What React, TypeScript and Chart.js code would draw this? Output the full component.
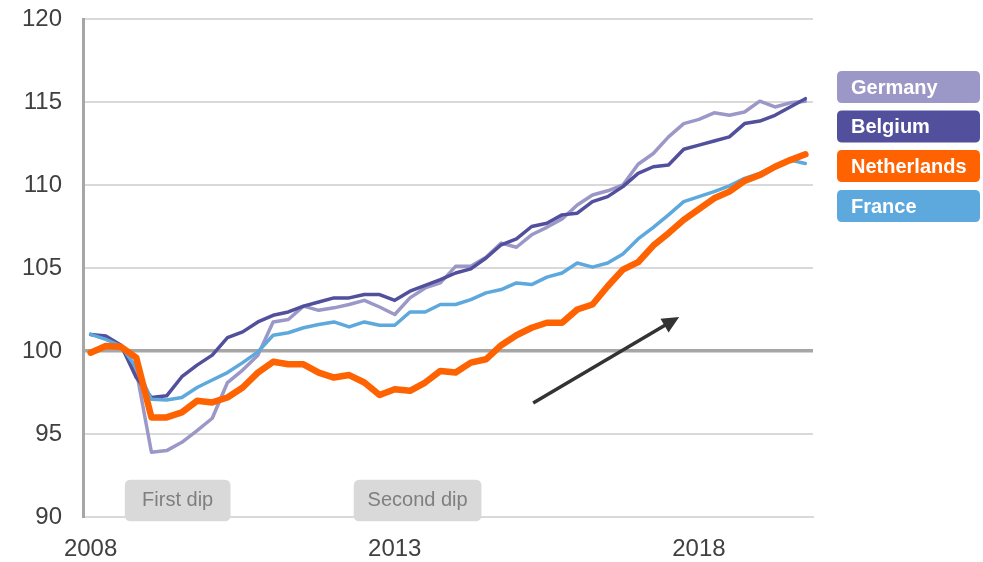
import React, { useEffect, useRef } from "react";
import { Chart, registerables } from "chart.js";

Chart.register(...registerables);

// ---------- DATA ----------
const years = [2008, 2009, 2010, 2011, 2012, 2013, 2014, 2015, 2016, 2017, 2018, 2019];
const quarters = ["Q1", "Q2", "Q3", "Q4"];
const categories: string[] = years.flatMap((y) => quarters.map((q) => `${y} ${q}`));
const xTickLabels: Record<number, string> = { 0: "2008", 20: "2013", 40: "2018" };
const yTicks = [90, 95, 100, 105, 110, 115, 120];

const germany = [
  101.0, 100.8, 100.25, 98.85, 93.9, 94.0, 94.5, 95.2, 95.95, 98.1, 98.85, 99.75,
  101.75, 101.9, 102.7, 102.45, 102.6, 102.8, 103.05, 102.65, 102.2, 103.2, 103.8, 104.1,
  105.1, 105.1, 105.65, 106.5, 106.25, 107.0, 107.45, 107.95, 108.8, 109.4, 109.65, 110.0,
  111.25, 111.9, 112.9, 113.7, 113.95, 114.35, 114.2, 114.4, 115.05, 114.7, 114.95, 115.05,
];
const belgium = [
  101.0, 100.9, 100.35, 98.4, 97.2, 97.3, 98.45, 99.15, 99.75, 100.8, 101.15, 101.75,
  102.15, 102.35, 102.7, 102.95, 103.2, 103.2, 103.4, 103.4, 103.05, 103.6, 103.95, 104.3,
  104.7, 104.95, 105.6, 106.4, 106.75, 107.5, 107.7, 108.2, 108.3, 109.0, 109.3, 109.9,
  110.7, 111.1, 111.2, 112.15, 112.4, 112.65, 112.9, 113.7, 113.85, 114.2, 114.7, 115.2,
];
const netherlands = [
  99.9, 100.3, 100.25, 99.6, 96.0, 96.0, 96.3, 97.0, 96.9, 97.2, 97.8, 98.7,
  99.35, 99.2, 99.2, 98.7, 98.4, 98.55, 98.1, 97.35, 97.7, 97.6, 98.1, 98.8,
  98.7, 99.3, 99.5, 100.35, 100.95, 101.4, 101.7, 101.7, 102.5, 102.8, 103.9, 104.9,
  105.35, 106.35, 107.1, 107.9, 108.55, 109.2, 109.6, 110.25, 110.6, 111.1, 111.5, 111.85,
];
const france = [
  101.0, 100.7, 100.3, 99.0, 97.1, 97.05, 97.2, 97.8, 98.25, 98.7, 99.3, 99.95,
  100.95, 101.1, 101.4, 101.6, 101.75, 101.45, 101.75, 101.55, 101.55, 102.35, 102.35, 102.8,
  102.8, 103.1, 103.5, 103.7, 104.1, 104.0, 104.45, 104.7, 105.3, 105.05, 105.3, 105.85,
  106.75, 107.45, 108.2, 109.0, 109.3, 109.6, 109.95, 110.4, 110.7, 111.15, 111.5, 111.3,
];

const seriesNames = ["Germany", "Belgium", "Netherlands", "France"];

// ---------- STYLES ----------
const COLORS: Record<string, string> = {
  Germany: "#9B98C8",
  Belgium: "#524F9C",
  Netherlands: "#FF6200",
  France: "#5DA8DC",
};
const FONT = "'Liberation Sans', Arial, sans-serif";

// annotation boxes (x in category index units, y in value units)
const dipBoxes = [
  { text: "First dip", x0: 2.25, x1: 9.2, y0: 92.25, y1: 89.75 },
  { text: "Second dip", x0: 17.3, x1: 25.7, y0: 92.25, y1: 89.75 },
];
const trendArrow = { x0: 29.1, y0: 96.87, x1: 38.7, y1: 102.05 };

function roundRect(ctx: CanvasRenderingContext2D, x: number, y: number, w: number, h: number, r: number) {
  ctx.beginPath();
  ctx.moveTo(x + r, y);
  ctx.lineTo(x + w - r, y);
  ctx.quadraticCurveTo(x + w, y, x + w, y + r);
  ctx.lineTo(x + w, y + h - r);
  ctx.quadraticCurveTo(x + w, y + h, x + w - r, y + h);
  ctx.lineTo(x + r, y + h);
  ctx.quadraticCurveTo(x, y + h, x, y + h - r);
  ctx.lineTo(x, y + r);
  ctx.quadraticCurveTo(x, y, x + r, y);
  ctx.closePath();
}

const overlayPlugin = {
  id: "overlay",
  afterDraw(chart: any) {
    const ctx: CanvasRenderingContext2D = chart.ctx;
    const xs = chart.scales.x;
    const ys = chart.scales.y;
    ctx.save();
    // dip boxes
    dipBoxes.forEach((b) => {
      const l = xs.getPixelForValue(b.x0);
      const r = xs.getPixelForValue(b.x1);
      const t = ys.getPixelForValue(b.y0);
      const bt = ys.getPixelForValue(b.y1);
      ctx.fillStyle = "#D9D9D9";
      roundRect(ctx, l, t, r - l, bt - t, 6);
      ctx.fill();
      ctx.fillStyle = "#7F7F7F";
      ctx.font = `20px ${FONT}`;
      ctx.textAlign = "center";
      ctx.textBaseline = "middle";
      ctx.fillText(b.text, (l + r) / 2, (t + bt) / 2);
    });
    // arrow
    const ax0 = xs.getPixelForValue(trendArrow.x0);
    const ay0 = ys.getPixelForValue(trendArrow.y0);
    const ax1 = xs.getPixelForValue(trendArrow.x1);
    const ay1 = ys.getPixelForValue(trendArrow.y1);
    const ang = Math.atan2(ay1 - ay0, ax1 - ax0);
    const headLen = 17;
    const headW = 8;
    ctx.strokeStyle = "#333333";
    ctx.fillStyle = "#333333";
    ctx.lineWidth = 3.5;
    ctx.lineCap = "butt";
    ctx.beginPath();
    ctx.moveTo(ax0, ay0);
    ctx.lineTo(ax1 - Math.cos(ang) * (headLen - 2), ay1 - Math.sin(ang) * (headLen - 2));
    ctx.stroke();
    ctx.beginPath();
    ctx.moveTo(ax1, ay1);
    const bx = ax1 - Math.cos(ang) * headLen;
    const by = ay1 - Math.sin(ang) * headLen;
    ctx.lineTo(bx + Math.sin(ang) * headW, by - Math.cos(ang) * headW);
    ctx.lineTo(bx - Math.sin(ang) * headW, by + Math.cos(ang) * headW);
    ctx.closePath();
    ctx.fill();
    // legend
    const lx = 837;
    const lw = 143;
    const lh = 32;
    const tops = [71, 110.5, 150, 190];
    seriesNames.forEach((name, i) => {
      ctx.fillStyle = COLORS[name];
      roundRect(ctx, lx, tops[i], lw, lh, 5);
      ctx.fill();
      ctx.fillStyle = "#FFFFFF";
      ctx.font = `bold 20px ${FONT}`;
      ctx.textAlign = "left";
      ctx.textBaseline = "middle";
      ctx.fillText(name, lx + 14, tops[i] + lh / 2 + 1);
    });
    ctx.restore();
  },
};

export default function App() {
  const ref = useRef<HTMLCanvasElement | null>(null);
  useEffect(() => {
    if (!ref.current) return;
    const values: Record<string, number[]> = {
      Germany: germany,
      Belgium: belgium,
      Netherlands: netherlands,
      France: france,
    };
    const drawOrder = ["Netherlands", "France", "Belgium", "Germany"];
    const chart = new Chart(ref.current, {
      type: "line",
      data: {
        labels: categories,
        datasets: drawOrder.map((name) => ({
          label: name,
          data: values[name],
          borderColor: COLORS[name],
          backgroundColor: COLORS[name],
          borderWidth: name === "Netherlands" ? 6.5 : 3.5,
          pointRadius: 0,
          tension: 0,
          fill: false,
          borderJoinStyle: "round" as const,
          borderCapStyle: "round" as const,
        })),
      },
      options: {
        responsive: false,
        animation: false,
        layout: { padding: { left: 0, right: 170, top: 19, bottom: 0 } },
        plugins: { legend: { display: false }, tooltip: { enabled: false } },
        scales: {
          x: {
            type: "category",
            offset: true,
            grid: { display: false, drawTicks: false },
            border: { display: true, color: "#D9D9D9", width: 2 },
            ticks: {
              autoSkip: false,
              maxRotation: 0,
              minRotation: 0,
              padding: 18,
              color: "#404040",
              font: { family: FONT, size: 24 },
              callback: (_v: any, i: number) => xTickLabels[i] ?? "",
            },
            afterFit: (s: any) => {
              s.height = 45;
              s.paddingLeft = 0;
              s.paddingRight = 0;
            },
          },
          y: {
            min: yTicks[0],
            max: yTicks[yTicks.length - 1],
            afterBuildTicks: (s: any) => {
              s.ticks = yTicks.map((v) => ({ value: v }));
            },
            grid: {
              drawTicks: false,
              color: (c: any) => (c.tick && c.tick.value === 100 ? "#A6A6A6" : "#D9D9D9"),
              lineWidth: (c: any) => (c.tick && c.tick.value === 100 ? 3.5 : 2),
            },
            border: { display: true, color: "#A6A6A6", width: 3 },
            ticks: {
              padding: 21,
              color: "#404040",
              font: { family: FONT, size: 24 },
            },
            afterFit: (s: any) => {
              s.width = 83;
              s.paddingTop = 0;
              s.paddingBottom = 0;
            },
          },
        },
      },
      plugins: [overlayPlugin],
    });
    return () => chart.destroy();
  }, []);
  return (
    <div style={{ position: "absolute", left: 0, top: 0, width: 983, height: 562, background: "#fff" }}>
      <canvas ref={ref} width={983} height={562} />
    </div>
  );
}
